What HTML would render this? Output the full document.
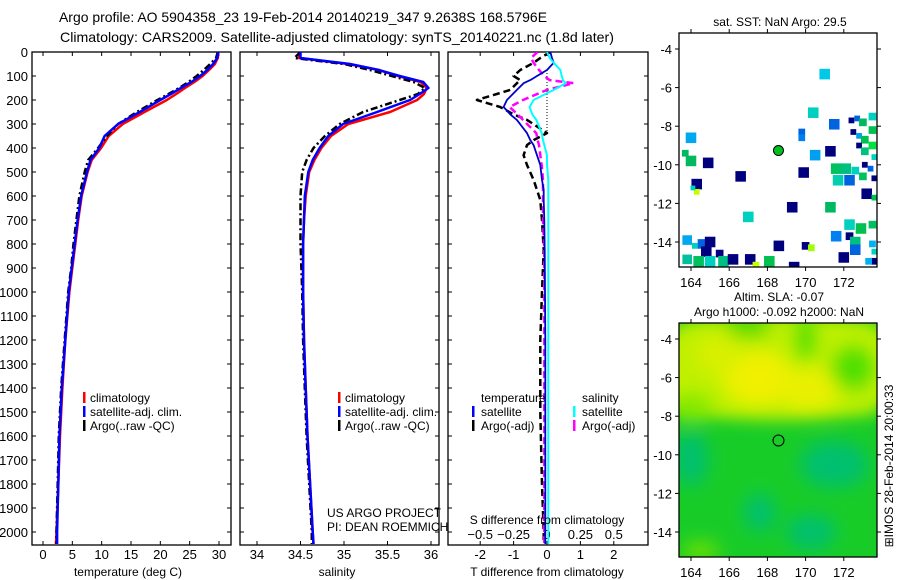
<!DOCTYPE html>
<html><head><meta charset="utf-8"><style>
html,body{margin:0;padding:0;background:#fff;}
svg{display:block;font-family:"Liberation Sans",Arial,sans-serif;}
</style></head><body>
<svg id="c" width="900" height="580" viewBox="0 0 900 580" xmlns="http://www.w3.org/2000/svg">
<defs>
<filter id="bl" x="-50%" y="-50%" width="200%" height="200%"><feGaussianBlur stdDeviation="9"/></filter>
<clipPath id="cp1"><rect x="32" y="52" width="199" height="493"/></clipPath>
<clipPath id="cp2"><rect x="240" y="52" width="199" height="493"/></clipPath>
<clipPath id="cp3"><rect x="448" y="52" width="200" height="493"/></clipPath>
<clipPath id="cm1"><rect x="679" y="33" width="198" height="234"/></clipPath>
<clipPath id="cm2"><rect x="679" y="323" width="198" height="234"/></clipPath>
</defs>
<text x="59" y="22" font-size="14" text-anchor="start" textLength="488" lengthAdjust="spacingAndGlyphs">Argo profile: AO 5904358_23 19-Feb-2014 20140219_347 9.2638S 168.5796E</text>
<text x="60" y="42" font-size="14" text-anchor="start" textLength="554" lengthAdjust="spacingAndGlyphs">Climatology: CARS2009. Satellite-adjusted climatology: synTS_20140221.nc (1.8d later)</text>
<text x="780" y="26" font-size="12" text-anchor="middle">sat. SST: NaN Argo: 29.5</text>
<text x="779" y="301" font-size="12" text-anchor="middle">Altim. SLA: -0.07</text>
<text x="779" y="316" font-size="12" text-anchor="middle">Argo h1000: -0.092 h2000: NaN</text>
<text transform="translate(893,466) rotate(-90)" font-size="12" text-anchor="middle">⊞IMOS 28-Feb-2014 20:00:33</text>
<g id="g"></g>
</svg>
<script>
// ---- profile data ----
const depth = [0,25,50,75,100,125,150,175,200,250,300,350,400,450,500,600,700,800,900,1000,1200,1400,1600,1800,2000,2050];
const tClim = [29.9,29.8,29.3,28.3,27.2,25.8,24.2,22.7,21.1,17.3,13.6,11.2,9.9,8.3,7.6,6.6,6.0,5.5,5.0,4.5,3.8,3.3,2.9,2.6,2.3,2.2];
const tSat  = [29.9,29.7,29.0,28.0,26.8,25.3,23.5,21.8,20.0,16.5,12.8,10.5,9.6,8.1,7.5,6.5,5.9,5.4,4.9,4.4,3.8,3.2,2.8,2.6,2.4,2.4];
const tArgo = [29.8,29.5,28.5,27.4,26.2,24.8,23.2,21.4,19.5,16.0,12.8,10.9,9.4,7.7,7.1,6.2,5.7,5.2,4.8,4.3,3.7,3.1,2.7,2.5,2.3,2.3];
const sClim = [34.5,34.48,35.05,35.4,35.62,35.88,35.95,35.92,35.84,35.53,35.05,34.85,34.74,34.66,34.6,34.56,34.54,34.53,34.53,34.53,34.54,34.56,34.58,34.61,34.64,34.65];
const sSat  = [34.5,34.5,35.07,35.4,35.64,35.91,35.97,35.87,35.76,35.38,34.99,34.82,34.72,34.64,34.59,34.55,34.54,34.53,34.53,34.53,34.54,34.56,34.58,34.61,34.64,34.65];
const sArgo = [34.5,34.43,35.0,35.3,35.55,35.8,35.93,35.85,35.64,35.22,34.95,34.78,34.65,34.57,34.52,34.5,34.5,34.5,34.51,34.52,34.53,34.55,34.57,34.6,34.63,34.63];
// ---- difference data ----
const dDepth = [0,25,45,75,100,117,130,158,200,229,260,283,338,367,388,430,471,533,575,617,700,825,1000,1200,1500,1800,2000,2050];
const tSatDiff  = [0.1,0.15,0.2,0,-0.3,-0.5,-0.7,-0.9,-1.2,-1.3,-1.1,-0.9,-0.6,-0.5,-0.4,-0.3,-0.2,-0.15,-0.1,-0.1,-0.08,-0.07,-0.06,-0.05,-0.05,-0.05,-0.05,-0.05];
const tArgoDiff = [0.1,-0.2,-0.4,-0.8,-1.0,-0.8,-0.9,-1.1,-2.1,-1.4,-1.0,-0.6,0,-0.4,-0.6,-0.7,-0.6,-0.4,-0.3,-0.2,-0.15,-0.1,-0.15,-0.2,-0.2,-0.15,-0.1,-0.1];
const sSatDiff  = [0,0.02,0.05,0.1,0.11,0.12,0.14,0.05,-0.1,-0.13,-0.11,-0.08,-0.04,-0.03,-0.02,0,0,0.01,0.01,0.01,0.01,0.01,0.01,0.01,0.01,0.01,0.01,0.01];
const sArgoDiff = [-0.07,-0.12,-0.1,-0.06,-0.02,0.02,0.2,0,-0.18,-0.28,-0.22,-0.18,-0.08,-0.07,-0.06,-0.05,-0.04,-0.03,-0.03,-0.03,-0.03,-0.02,-0.02,-0.02,-0.02,-0.02,-0.02,-0.02];
// ---- ticks ----
const depthTicks = [0,100,200,300,400,500,600,700,800,900,1000,1100,1200,1300,1400,1500,1600,1700,1800,1900,2000];
const tempTicks = [0,5,10,15,20,25,30];
const salTicks = [34,34.5,35,35.5,36];
const tdTicks = [-2,-1,0,1,2];
const sdTicks = [-0.5,-0.25,0,0.25,0.5];
const lonTicks = [164,166,168,170,172];
const latTicks = [-4,-6,-8,-10,-12,-14];
// ---- SST map cells: [lon, lat, size(deg), colour] ----
const sstCells = [
[171.0,-5.3,0.55,'#00c8e8'],[170.4,-7.3,0.55,'#00d0c0'],[164.0,-8.6,0.55,'#00a8f0'],[163.7,-9.4,0.35,'#00b860'],[164.0,-9.8,0.55,'#00b860'],
[164.9,-9.9,0.55,'#00007f'],[166.6,-10.6,0.55,'#00007f'],[169.9,-10.4,0.55,'#00007f'],[171.3,-9.3,0.55,'#00007f'],[170.5,-9.5,0.55,'#00a0f0'],
[169.3,-12.2,0.55,'#00007f'],[171.3,-12.2,0.55,'#00b860'],[167.0,-12.7,0.55,'#00d0c0'],[171.6,-13.7,0.55,'#0080f0'],[168.6,-14.2,0.55,'#00007f'],
[172.0,-14.8,0.55,'#00007f'],[169.4,-15.3,0.55,'#00007f'],[171.5,-7.9,0.55,'#0064e0'],[169.8,-8.3,0.35,'#0064e0'],[169.8,-8.6,0.35,'#0080f0'],
[172.4,-7.7,0.3,'#00007f'],[172.7,-7.6,0.3,'#0064e0'],[173.0,-7.8,0.4,'#00b860'],[173.5,-7.5,0.4,'#00d0c0'],[173.5,-8.2,0.4,'#00c050'],
[172.5,-8.3,0.3,'#00007f'],[172.8,-8.5,0.3,'#00a0f0'],[173.1,-8.7,0.4,'#00c050'],[173.5,-9.0,0.4,'#00e040'],[172.8,-9.0,0.3,'#00007f'],
[173.1,-9.3,0.4,'#00c080'],[173.6,-9.6,0.3,'#00d0c0'],[171.6,-10.2,0.55,'#00c060'],[172.1,-10.2,0.55,'#00c080'],[172.6,-10.3,0.4,'#00d0c0'],
[173.1,-10.0,0.3,'#00007f'],[173.4,-10.2,0.3,'#0064e0'],[173.0,-10.6,0.4,'#00c060'],[171.7,-10.8,0.55,'#00d0b0'],[172.3,-10.8,0.55,'#0064e0'],
[173.6,-10.7,0.3,'#00007f'],[173.2,-11.5,0.55,'#00007f'],[173.6,-11.7,0.3,'#00c050'],[172.3,-13.1,0.55,'#00d0c0'],[172.9,-13.3,0.55,'#00c050'],
[173.5,-13.1,0.4,'#00c060'],[172.3,-13.7,0.4,'#00007f'],[172.6,-14.0,0.55,'#00c080'],[172.6,-14.4,0.55,'#0064e0'],[173.5,-14.1,0.35,'#00b0f0'],
[173.6,-14.5,0.3,'#00d0c0'],[173.6,-15.0,0.35,'#00007f'],[173.3,-15.0,0.35,'#00b0f0'],[164.3,-11.0,0.55,'#00007f'],[164.3,-11.4,0.3,'#c8ff00'],[164.1,-11.2,0.25,'#00d0c0'],
[163.8,-13.9,0.5,'#00a8f0'],[164.2,-14.2,0.3,'#00d0c0'],[164.6,-14.1,0.5,'#0064e0'],[165.0,-14.0,0.55,'#00007f'],[164.8,-14.5,0.55,'#00007f'],
[165.5,-14.6,0.4,'#00007f'],[163.8,-14.9,0.5,'#00c0a0'],[164.4,-15.0,0.55,'#00c060'],[165.0,-15.0,0.55,'#00d0c0'],[165.7,-15.0,0.55,'#00c080'],
[166.2,-14.9,0.55,'#00007f'],[167.1,-14.9,0.55,'#00007f'],[167.4,-15.2,0.35,'#c8ff00'],[168.1,-15.0,0.55,'#00c050'],[170.0,-14.2,0.4,'#00007f'],[170.3,-14.3,0.35,'#a0ff00']
];
// ---- SLA blobs: [lon, lat, rx(deg), ry(deg), colour] ----
const slaBlobs = [
[168.5,-5.5,8,2.6,'#c0f000'],[167.5,-6.0,1.8,1.4,'#f0f000'],[170.2,-6.6,1.6,1.2,'#e8f000'],[165.5,-4.8,1.2,1.0,'#d8f000'],
[167.0,-3.4,1.2,0.5,'#40d800'],[170.0,-4.0,0.6,1.2,'#50e000'],[172.5,-5.5,1.2,1.2,'#50e000'],[164.0,-7.5,1.2,0.7,'#80e800'],
[164.0,-10.2,0.9,1.4,'#00c070'],[171.5,-10.5,1.8,1.2,'#00c070'],[167.6,-13.0,0.8,1.0,'#00c070'],[170.3,-14.0,1.3,0.9,'#00c070'],[164.5,-15.0,1.0,0.5,'#70e000']
];
// ---- legend text ----
const profLegend = ['climatology','satellite-adj. clim.','Argo(..raw -QC)'];
const profLegendColors = ['#ff0000','#0000ff','#000000'];

const NS='http://www.w3.org/2000/svg';
const G=document.getElementById('g');
function mk(tag,attrs,parent){const e=document.createElementNS(NS,tag);for(const k in attrs)e.setAttribute(k,attrs[k]);(parent||G).appendChild(e);return e;}
function txt(x,y,s,size,anchor,parent){const e=mk('text',{x:x,y:y,'font-size':size,'text-anchor':anchor||'middle'},parent);e.textContent=s;return e;}

const yD = d => 52 + d*0.24;
const xT = v => 43 + v*(176/30);
const xS = v => 257 + (v-34)*87;
const xTD = v => 547 + v*33.4;
const xSD = v => 547 + v*133.6;
const mx = lon => 691 + (lon-164)*19.1;
const my = lat => 49 + (-4-lat)*19.3;
const my2 = lat => 339 + (-4-lat)*19.3;

function panel(x0,w,name){
  const r=mk('rect',{x:x0,y:52,width:w,height:493,fill:'none',stroke:'#000','stroke-width':1.3});
  
  
  depthTicks.forEach(d=>{mk('line',{x1:x0,x2:x0+4,y1:yD(d),y2:yD(d),stroke:'#000'});mk('line',{x1:x0+w-4,x2:x0+w,y1:yD(d),y2:yD(d),stroke:'#000'});});
}
depthTicks.forEach(d=>{const t=txt(28,yD(d)+5,String(d),13,'end');

});

function line(xs,ys,xf,yf,col,w,dash,clip,name){
  let p='';xs.forEach((v,i)=>{if(v===null)return;p+=(p?'L':'M')+xf(v).toFixed(1)+','+yf(ys[i]).toFixed(1);});
  const a={d:p,fill:'none',stroke:col,'stroke-width':w,'clip-path':'url(#'+clip+')','stroke-linejoin':'round'};
  if(dash)a['stroke-dasharray']=dash;
  const e=mk('path',a);
  
  
}

panel(32,199,'temperature-panel');
tempTicks.forEach(v=>{mk('line',{x1:xT(v),x2:xT(v),y1:52,y2:56,stroke:'#000'});mk('line',{x1:xT(v),x2:xT(v),y1:541,y2:545,stroke:'#000'});
 const t=txt(xT(v),559,String(v),13);
 
 });
line(tClim,depth,xT,yD,'#ff0000',2.5,null,'cp1','temp-climatology-line');
line(tArgo,depth,xT,yD,'#000',2.5,'7,3,2,3','cp1','temp-argo-line');
line(tSat,depth,xT,yD,'#0000ff',2.5,null,'cp1','temp-satellite-line');
const tl=txt(128,576,'temperature (deg C)',12);



panel(240,199,'salinity-panel');
salTicks.forEach(v=>{mk('line',{x1:xS(v),x2:xS(v),y1:52,y2:56,stroke:'#000'});mk('line',{x1:xS(v),x2:xS(v),y1:541,y2:545,stroke:'#000'});
 const t=txt(xS(v),559,String(v),13);
 
 });
line(sClim,depth,xS,yD,'#ff0000',2.5,null,'cp2','sal-climatology-line');
line(sArgo,depth,xS,yD,'#000',2.5,'7,3,2,3','cp2','sal-argo-line');
line(sSat,depth,xS,yD,'#0000ff',2.5,null,'cp2','sal-satellite-line');
const sl=txt(337,576,'salinity',12);



[[84,90],[339,345]].forEach((p,pi)=>{profLegend.forEach((s,i)=>{
  const yy=398+i*14;
  mk('rect',{x:p[0]-1,y:yy-6,width:2.5,height:11,fill:profLegendColors[i]});
  const t=txt(p[1],yy+4,s,12,'start');
  
  
});});
const ua=txt(327,517,'US ARGO PROJECT',12,'start');


const pi2=txt(327,531,'PI: DEAN ROEMMICH',12,'start');



panel(448,200,'difference-panel');
tdTicks.forEach(v=>{mk('line',{x1:xTD(v),x2:xTD(v),y1:52,y2:56,stroke:'#000'});mk('line',{x1:xTD(v),x2:xTD(v),y1:541,y2:545,stroke:'#000'});
 const t=txt(xTD(v),559,String(v),13);
 
 });
sdTicks.forEach(v=>{const t=txt(xSD(v),539,String(v).replace('-','−'),13);
 
 });
mk('line',{x1:547,x2:547,y1:70,y2:132,stroke:'#000','stroke-dasharray':'1,2'});
line(tArgoDiff,dDepth,xTD,yD,'#000',2.5,'7,4','cp3','tdiff-argo-line');
line(sArgoDiff,dDepth,xSD,yD,'#ff00ff',2.5,'7,4','cp3','sdiff-argo-line');
line(tSatDiff,dDepth,xTD,yD,'#0000cc',1.8,null,'cp3','tdiff-satellite-line');
line(sSatDiff,dDepth,xSD,yD,'#00ffff',2,null,'cp3','sdiff-satellite-line');
[['temperature',481,398,null],['satellite',481,412,'#0000ff'],['Argo(-adj)',481,426,'#000'],['salinity',582,398,null],['satellite',582,412,'#00ffff'],['Argo(-adj)',582,426,'#ff00ff']].forEach(a=>{
  if(a[3])mk('rect',{x:a[1]-9,y:a[2]-6,width:2.5,height:11,fill:a[3]});
  const t=txt(a[1],a[2]+4,a[0],12,'start');
  
  
});
const sdt=txt(547,524,'S difference from climatology',12);


const tdt=txt(547,576,'T difference from climatology',12);



function mapFrame(y0,yf,name){
  const r=mk('rect',{x:679,y:y0,width:198,height:234,fill:'none',stroke:'#000','stroke-width':1.3});
  
  
  lonTicks.forEach(v=>{mk('line',{x1:mx(v),x2:mx(v),y1:y0-4,y2:y0,stroke:'#000'});mk('line',{x1:mx(v),x2:mx(v),y1:y0+234,y2:y0+238,stroke:'#000'});
    const t=txt(mx(v),y0+254,String(v),13);
    
    });
  latTicks.forEach(v=>{mk('line',{x1:675,x2:679,y1:yf(v),y2:yf(v),stroke:'#000'});mk('line',{x1:877,x2:881,y1:yf(v),y2:yf(v),stroke:'#000'});
    const t=txt(672,yf(v)+5,String(v),13,'end');
    
    });
}
const gs=mk('g',{'clip-path':'url(#cm1)'});
sstCells.forEach(c=>{const s=c[2]*19.2;const e=mk('rect',{x:mx(c[0])-s/2,y:my(c[1])-s/2,width:s,height:s,fill:c[3]},gs);
 
 });
const ac=mk('circle',{cx:mx(168.58),cy:my(-9.26),r:5,fill:'#00c020',stroke:'#000','stroke-width':1});


mapFrame(33,my,'sst-map');

const g2=mk('g',{'clip-path':'url(#cm2)'});
mk('rect',{x:679,y:323,width:198,height:234,fill:'#18cc28'},g2);
mk('rect',{x:679,y:323,width:198,height:my2(-7.8)-323,fill:'#a8ec00',filter:'url(#bl)'},g2);
const gb=mk('g',{filter:'url(#bl)'},g2);
slaBlobs.forEach(b=>{const e=mk('ellipse',{cx:mx(b[0]),cy:my2(b[1]),rx:b[2]*19.1,ry:b[3]*19.3,fill:b[4]},gb);
 
 });
const ac2=mk('circle',{cx:mx(168.58),cy:my2(-9.26),r:5.5,fill:'none',stroke:'#000','stroke-width':1});


mapFrame(323,my2,'sla-map');
</script>
</body></html>
